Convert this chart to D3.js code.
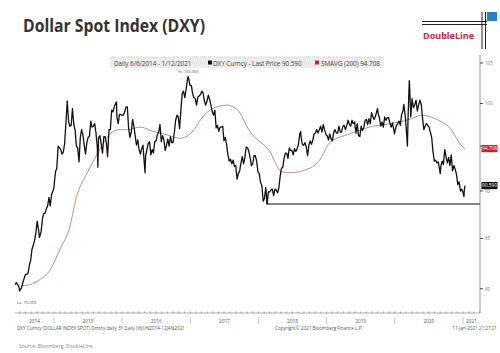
<!DOCTYPE html>
<html>
<head>
<meta charset="utf-8">
<script src="https://cdn.jsdelivr.net/npm/d3@7"></script>
<style>
  body { margin: 0; background: #fff; }
  svg { display: block; font-family: "Open Sans", "Liberation Sans", sans-serif; }
</style>
</head>
<body>
<svg id="chart" width="500" height="353"></svg>
<script>
const dxyPrice = [
  ["2014-06-06", 80.4], ["2014-06-13", 80.6], ["2014-06-20", 80.4], ["2014-06-27", 80.2], ["2014-07-01", 79.8],
  ["2014-07-11", 80.1], ["2014-07-18", 80.6], ["2014-07-25", 81.0], ["2014-08-01", 81.4], ["2014-08-08", 81.4],
  ["2014-08-15", 81.5], ["2014-08-22", 82.3], ["2014-08-29", 82.8], ["2014-09-05", 83.9], ["2014-09-12", 84.3],
  ["2014-09-19", 84.8], ["2014-09-26", 85.6], ["2014-10-03", 86.8], ["2014-10-10", 85.9], ["2014-10-15", 85.1],
  ["2014-10-24", 85.7], ["2014-10-31", 87.0], ["2014-11-07", 87.6], ["2014-11-14", 87.6], ["2014-11-21", 88.1],
  ["2014-11-28", 88.4], ["2014-12-05", 89.3], ["2014-12-12", 88.4], ["2014-12-19", 89.6], ["2014-12-31", 90.3],
  ["2015-01-09", 92.1], ["2015-01-16", 92.5], ["2015-01-23", 95.0], ["2015-01-30", 94.8], ["2015-02-06", 94.6],
  ["2015-02-13", 94.1], ["2015-02-20", 94.3], ["2015-02-27", 95.3], ["2015-03-06", 97.7], ["2015-03-13", 100.3],
  ["2015-03-20", 97.9], ["2015-03-27", 97.3], ["2015-04-03", 97.4], ["2015-04-10", 99.4], ["2015-04-17", 97.5],
  ["2015-04-24", 96.9], ["2015-05-01", 95.0], ["2015-05-08", 94.8], ["2015-05-15", 93.2], ["2015-05-22", 96.0],
  ["2015-05-29", 96.9], ["2015-06-05", 96.3], ["2015-06-12", 95.1], ["2015-06-19", 94.1], ["2015-06-26", 95.4],
  ["2015-07-03", 96.0], ["2015-07-10", 96.1], ["2015-07-17", 97.9], ["2015-07-24", 97.2], ["2015-07-31", 97.3],
  ["2015-08-07", 97.6], ["2015-08-14", 96.5], ["2015-08-21", 94.9], ["2015-08-24", 92.6], ["2015-08-28", 96.0],
  ["2015-09-04", 96.2], ["2015-09-11", 95.2], ["2015-09-18", 94.2], ["2015-09-25", 96.1], ["2015-10-02", 96.1],
  ["2015-10-09", 95.3], ["2015-10-15", 93.8], ["2015-10-23", 96.9], ["2015-10-30", 96.9], ["2015-11-06", 99.2],
  ["2015-11-13", 99.0], ["2015-11-20", 99.6], ["2015-11-27", 100.0], ["2015-12-02", 100.2], ["2015-12-04", 98.4],
  ["2015-12-11", 97.6], ["2015-12-18", 98.7], ["2015-12-31", 98.6],
  ["2016-01-08", 98.6], ["2016-01-15", 99.0], ["2016-01-22", 99.6], ["2016-01-29", 99.6], ["2016-02-05", 97.0],
  ["2016-02-12", 96.0], ["2016-02-19", 96.6], ["2016-02-26", 98.1], ["2016-03-04", 97.3], ["2016-03-11", 96.2],
  ["2016-03-18", 95.1], ["2016-03-25", 95.7], ["2016-04-01", 94.6], ["2016-04-08", 94.1], ["2016-04-15", 94.7],
  ["2016-04-22", 95.1], ["2016-04-29", 93.0], ["2016-05-03", 92.0], ["2016-05-06", 93.9], ["2016-05-13", 94.6],
  ["2016-05-20", 95.3], ["2016-05-27", 95.5], ["2016-06-03", 94.0], ["2016-06-10", 94.6], ["2016-06-17", 94.2],
  ["2016-06-24", 95.5], ["2016-07-01", 95.6], ["2016-07-08", 96.3], ["2016-07-15", 96.6], ["2016-07-22", 97.5],
  ["2016-07-29", 95.5], ["2016-08-05", 96.2], ["2016-08-12", 95.7], ["2016-08-19", 94.5], ["2016-08-26", 95.1],
  ["2016-09-02", 95.8], ["2016-09-09", 95.0], ["2016-09-16", 96.1], ["2016-09-23", 95.4], ["2016-09-30", 95.4],
  ["2016-10-07", 96.6], ["2016-10-14", 98.0], ["2016-10-21", 98.6], ["2016-10-28", 98.4], ["2016-11-04", 97.0],
  ["2016-11-11", 99.2], ["2016-11-18", 101.2], ["2016-11-25", 101.5], ["2016-12-02", 100.7], ["2016-12-09", 101.7],
  ["2016-12-16", 102.9], ["2016-12-20", 103.3], ["2016-12-23", 103.0], ["2016-12-30", 102.2],
  ["2017-01-06", 102.2], ["2017-01-13", 101.2], ["2017-01-20", 100.7], ["2017-01-27", 100.6], ["2017-02-03", 99.8],
  ["2017-02-10", 100.8], ["2017-02-17", 100.9], ["2017-02-24", 101.1], ["2017-03-03", 101.5], ["2017-03-10", 101.3],
  ["2017-03-17", 100.3], ["2017-03-24", 99.8], ["2017-03-31", 100.3], ["2017-04-07", 101.0], ["2017-04-14", 100.5],
  ["2017-04-21", 99.8], ["2017-04-28", 99.0], ["2017-05-05", 98.6], ["2017-05-12", 99.2], ["2017-05-19", 97.1],
  ["2017-05-26", 97.4], ["2017-06-02", 96.7], ["2017-06-09", 97.2], ["2017-06-16", 97.2], ["2017-06-23", 97.3],
  ["2017-06-30", 95.6], ["2017-07-07", 96.0], ["2017-07-14", 95.2], ["2017-07-21", 94.0], ["2017-07-28", 93.3],
  ["2017-08-04", 93.5], ["2017-08-11", 93.0], ["2017-08-18", 93.4], ["2017-08-25", 92.7], ["2017-09-01", 92.8],
  ["2017-09-08", 91.3], ["2017-09-15", 91.9], ["2017-09-22", 92.2], ["2017-09-29", 93.1], ["2017-10-06", 93.8],
  ["2017-10-13", 93.0], ["2017-10-20", 93.7], ["2017-10-27", 94.9], ["2017-11-03", 94.8], ["2017-11-10", 94.4],
  ["2017-11-17", 93.7], ["2017-11-24", 92.8], ["2017-12-01", 93.0], ["2017-12-08", 93.9], ["2017-12-15", 93.9],
  ["2017-12-22", 93.3], ["2017-12-29", 92.1],
  ["2018-01-05", 91.9], ["2018-01-12", 90.9], ["2018-01-19", 90.6], ["2018-01-26", 88.9], ["2018-02-02", 89.2],
  ["2018-02-09", 90.4], ["2018-02-16", 88.6], ["2018-02-23", 89.9], ["2018-03-02", 89.9], ["2018-03-09", 90.1],
  ["2018-03-16", 90.2], ["2018-03-23", 89.5], ["2018-03-30", 90.2], ["2018-04-06", 90.1], ["2018-04-13", 89.8],
  ["2018-04-20", 90.3], ["2018-04-27", 91.6], ["2018-05-04", 92.5], ["2018-05-11", 92.6], ["2018-05-18", 93.6],
  ["2018-05-25", 94.2], ["2018-06-01", 94.2], ["2018-06-08", 93.6], ["2018-06-15", 94.8], ["2018-06-22", 94.5],
  ["2018-06-29", 94.5], ["2018-07-06", 94.0], ["2018-07-13", 94.7], ["2018-07-20", 94.4], ["2018-07-27", 94.7],
  ["2018-08-03", 95.2], ["2018-08-10", 96.4], ["2018-08-15", 96.7], ["2018-08-17", 96.1], ["2018-08-24", 95.2],
  ["2018-08-31", 95.1], ["2018-09-07", 95.4], ["2018-09-14", 94.9], ["2018-09-21", 93.9], ["2018-09-28", 95.1],
  ["2018-10-05", 95.6], ["2018-10-12", 95.2], ["2018-10-19", 95.7], ["2018-10-26", 96.4], ["2018-11-02", 96.5],
  ["2018-11-09", 96.9], ["2018-11-16", 96.5], ["2018-11-23", 96.9], ["2018-11-30", 97.3], ["2018-12-07", 96.6],
  ["2018-12-14", 97.5], ["2018-12-21", 96.9], ["2018-12-31", 96.2],
  ["2019-01-04", 96.2], ["2019-01-11", 95.7], ["2019-01-18", 96.4], ["2019-01-25", 95.8], ["2019-02-01", 95.6],
  ["2019-02-08", 96.6], ["2019-02-15", 96.9], ["2019-02-22", 96.5], ["2019-03-01", 96.5], ["2019-03-08", 97.3],
  ["2019-03-15", 96.6], ["2019-03-22", 96.6], ["2019-03-29", 97.3], ["2019-04-05", 97.4], ["2019-04-12", 96.9],
  ["2019-04-19", 97.4], ["2019-04-26", 98.0], ["2019-05-03", 97.5], ["2019-05-10", 97.3], ["2019-05-17", 98.0],
  ["2019-05-24", 97.6], ["2019-05-31", 97.8], ["2019-06-07", 96.5], ["2019-06-14", 97.6], ["2019-06-21", 96.2],
  ["2019-06-28", 96.1], ["2019-07-05", 97.3], ["2019-07-12", 96.8], ["2019-07-19", 97.1], ["2019-07-26", 98.0],
  ["2019-08-02", 98.1], ["2019-08-09", 97.5], ["2019-08-16", 98.2], ["2019-08-23", 97.6], ["2019-08-30", 98.9],
  ["2019-09-06", 98.4], ["2019-09-13", 98.1], ["2019-09-20", 98.5], ["2019-09-27", 99.1], ["2019-10-01", 99.4],
  ["2019-10-04", 98.8], ["2019-10-11", 98.3], ["2019-10-18", 97.3], ["2019-10-25", 97.8], ["2019-11-01", 97.2],
  ["2019-11-08", 98.4], ["2019-11-15", 98.0], ["2019-11-22", 98.3], ["2019-11-29", 98.3], ["2019-12-06", 97.7],
  ["2019-12-13", 97.2], ["2019-12-20", 97.7], ["2019-12-31", 96.4],
  ["2020-01-03", 96.8], ["2020-01-10", 97.4], ["2020-01-17", 97.6], ["2020-01-24", 97.9], ["2020-01-31", 97.4],
  ["2020-02-07", 98.7], ["2020-02-14", 99.1], ["2020-02-19", 99.9], ["2020-02-28", 98.1], ["2020-03-06", 96.0],
  ["2020-03-09", 95.0], ["2020-03-13", 98.7], ["2020-03-19", 102.8], ["2020-03-20", 102.5], ["2020-03-27", 98.4],
  ["2020-04-03", 100.6], ["2020-04-10", 99.5], ["2020-04-17", 99.8], ["2020-04-24", 100.4], ["2020-05-01", 99.1],
  ["2020-05-08", 99.8], ["2020-05-15", 100.4], ["2020-05-22", 99.9], ["2020-05-29", 98.3], ["2020-06-05", 96.9],
  ["2020-06-12", 97.3], ["2020-06-19", 97.6], ["2020-06-26", 97.4], ["2020-07-03", 97.2], ["2020-07-10", 96.6],
  ["2020-07-17", 96.0], ["2020-07-24", 94.4], ["2020-07-31", 93.3], ["2020-08-07", 93.4], ["2020-08-14", 93.1],
  ["2020-08-21", 93.2], ["2020-08-28", 92.4], ["2020-09-01", 91.9], ["2020-09-04", 92.7], ["2020-09-11", 93.3],
  ["2020-09-18", 92.9], ["2020-09-25", 94.6], ["2020-10-02", 93.8], ["2020-10-09", 93.1], ["2020-10-16", 93.7],
  ["2020-10-23", 92.8], ["2020-10-30", 94.0], ["2020-11-06", 92.2], ["2020-11-13", 92.8], ["2020-11-20", 92.4],
  ["2020-11-27", 91.8], ["2020-12-04", 90.7], ["2020-12-11", 91.0], ["2020-12-18", 90.0], ["2020-12-25", 90.2],
  ["2020-12-31", 89.9], ["2021-01-06", 89.4], ["2021-01-08", 90.1], ["2021-01-11", 90.5], ["2021-01-12", 90.59]
];

// 200-day simple moving average
const sma200 = [
  ["2014-07-13", 80.3], ["2014-08-25", 80.4], ["2014-10-18", 80.9], ["2014-12-10", 81.8], ["2015-02-02", 83.9],
  ["2015-03-27", 86.2], ["2015-04-28", 89.1], ["2015-07-01", 92.1], ["2015-09-03", 94.6], ["2015-10-27", 96.4],
  ["2015-12-20", 96.9], ["2016-02-01", 96.9], ["2016-04-06", 97.2], ["2016-06-14", 96.7], ["2016-08-28", 96.3],
  ["2016-11-05", 95.9], ["2017-01-09", 96.6], ["2017-03-08", 98.4], ["2017-05-01", 99.4], ["2017-07-15", 99.8],
  ["2017-09-12", 99.2], ["2017-11-15", 96.7], ["2018-03-02", 94.4], ["2018-05-05", 92.1], ["2018-06-17", 92.0],
  ["2018-10-03", 92.5], ["2018-11-24", 93.4], ["2019-01-18", 95.4], ["2019-05-05", 96.4], ["2019-08-19", 97.2],
  ["2019-12-04", 97.6], ["2020-03-20", 98.1], ["2020-05-25", 98.6], ["2020-08-13", 98.1], ["2020-10-22", 97.1],
  ["2020-12-31", 94.9], ["2021-01-12", 94.708]
];

const yTicks = [80, 85, 90, 95, 100, 105];
const yearLabels = ["2014", "2015", "2016", "2017", "2018", "2019", "2020", "2021"];
const lastPrice = 90.590;
const lastSma = 94.708;
const supportLevel = 88.6;
const supportFrom = "2018-02-16";
const hiValue = 103.300;
const loValue = 79.093;

const parse = d3.timeParse("%Y-%m-%d");
const price = dxyPrice.map(d => ({date: parse(d[0]), value: d[1]}));
const sma = sma200.map(d => ({date: parse(d[0]), value: d[1]}));

const svg = d3.select("#chart");
const plotLeft = 15, plotRight = 480, plotTop = 57, plotBottom = 313;

const x = d3.scaleTime()
  .domain([parse("2014-06-06"), parse("2021-04-02")])
  .range([plotLeft, plotRight]);
const y = d3.scaleLog()
  .domain([77.7, 105.76])
  .range([plotBottom, plotTop]);

// title
svg.append("text")
  .attr("x", 23).attr("y", 32)
  .attr("font-size", 18).attr("font-weight", 700)
  .attr("fill", "#333")
  .attr("textLength", 182).attr("lengthAdjust", "spacingAndGlyphs")
  .text("Dollar Spot Index (DXY)");

// DoubleLine logo
const logo = svg.append("g");
[21.5, 24.5].forEach(yy => logo.append("line")
  .attr("x1", 422).attr("x2", 487).attr("y1", yy).attr("y2", yy)
  .attr("stroke", "#222").attr("stroke-width", 1));
[482, 485.5].forEach(xx => logo.append("line")
  .attr("x1", xx).attr("x2", xx).attr("y1", 12).attr("y2", 49)
  .attr("stroke", "#222").attr("stroke-width", 1));
logo.append("rect").attr("x", 487).attr("y", 12).attr("width", 10).attr("height", 9).attr("fill", "#1f7fd0");
logo.append("text")
  .attr("x", 423).attr("y", 39)
  .attr("font-size", 9).attr("font-weight", 700).attr("fill", "#d0233b")
  .text("DoubleLine");

// legend bar
svg.append("rect")
  .attr("x", 110).attr("y", 57).attr("width", 274).attr("height", 11)
  .attr("fill", "#ececec");
svg.append("line")
  .attr("x1", 110).attr("x2", 384).attr("y1", 57).attr("y2", 57)
  .attr("stroke", "#bbb").attr("stroke-dasharray", "1,1").attr("stroke-width", 0.6);
const legend = svg.append("g").attr("font-size", 6.3).attr("fill", "#444");
legend.append("text").attr("x", 114).attr("y", 65.5).text("Daily 6/6/2014 - 1/12/2021");
legend.append("rect").attr("x", 208).attr("y", 60.5).attr("width", 4).attr("height", 4).attr("fill", "#111");
legend.append("text").attr("x", 213).attr("y", 65.5).text("DXY Curncy - Last Price " + d3.format(".3f")(lastPrice));
legend.append("rect").attr("x", 315).attr("y", 60.5).attr("width", 4).attr("height", 4).attr("fill", "#c8202f");
legend.append("text").attr("x", 321).attr("y", 65.5).text("SMAVG (200) " + d3.format(".3f")(lastSma));

// right axis (the 95 label sits under the SMA tag, so only its tick shows)
svg.append("line")
  .attr("x1", plotRight).attr("x2", plotRight).attr("y1", plotTop - 2).attr("y2", plotBottom)
  .attr("stroke", "#999").attr("stroke-width", 1);
const yAxis = svg.append("g");
yTicks.forEach(t => {
  yAxis.append("line")
    .attr("x1", plotRight).attr("x2", plotRight + 3).attr("y1", y(t)).attr("y2", y(t))
    .attr("stroke", "#222").attr("stroke-width", 0.8);
  if (Math.abs(y(t) - y(lastSma)) < 6) return;
  yAxis.append("text")
    .attr("x", plotRight + 5).attr("y", y(t) + 2)
    .attr("font-size", 4.5).attr("fill", "#777")
    .text(t);
});

// bottom axis
svg.append("line")
  .attr("x1", plotLeft).attr("x2", plotRight).attr("y1", plotBottom).attr("y2", plotBottom)
  .attr("stroke", "#999").attr("stroke-width", 0.8);
x.ticks(d3.timeMonth.every(1)).forEach(m => {
  svg.append("line")
    .attr("x1", x(m)).attr("x2", x(m)).attr("y1", plotBottom - 1.5).attr("y2", plotBottom)
    .attr("stroke", "#666").attr("stroke-width", 0.6);
});
const [d0, d1] = x.domain();
yearLabels.forEach(label => {
  const ys = d3.max([d0, new Date(+label, 0, 1)]);
  const ye = d3.min([d1, new Date(+label + 1, 0, 1)]);
  if (+label > 2014) {
    svg.append("line")
      .attr("x1", x(new Date(+label, 0, 1))).attr("x2", x(new Date(+label, 0, 1)))
      .attr("y1", 317).attr("y2", 324)
      .attr("stroke", "#aaa").attr("stroke-width", 0.6);
  }
  svg.append("text")
    .attr("x", (x(ys) + x(ye)) / 2).attr("y", 323)
    .attr("text-anchor", "middle")
    .attr("font-size", 4.8).attr("fill", "#555")
    .text(label);
});

// footer texts
const foot = svg.append("g").attr("font-size", 4.6).attr("fill", "#555");
foot.append("text").attr("x", 17).attr("y", 329.5)
  .text("DXY Curncy (DOLLAR INDEX SPOT) Dmthy daily 3Y  Daily 06JUN2014-12JAN2021");
foot.append("text").attr("x", 275).attr("y", 329.5)
  .text("Copyright\u00A9 2021 Bloomberg Finance L.P.");
foot.append("text").attr("x", 497).attr("y", 329.5).attr("text-anchor", "end")
  .text("11-Jan-2021 21:27:21");
svg.append("text")
  .attr("x", 19).attr("y", 348)
  .attr("font-size", 5).attr("fill", "#888")
  .text("Source: Bloomberg, DoubleLine");

// support line from 2018 low to the axis
const sx = x(parse(supportFrom));
svg.append("path")
  .attr("d", `M${sx},${y(supportLevel) - 4}V${y(supportLevel)}H${plotRight}`)
  .attr("fill", "none").attr("stroke", "#111").attr("stroke-width", 1.2);

// lines
svg.append("path")
  .datum(sma)
  .attr("d", d3.line().x(d => x(d.date)).y(d => y(d.value)).curve(d3.curveMonotoneX))
  .attr("fill", "none").attr("stroke", "#c47a82").attr("stroke-width", 0.9);
svg.append("path")
  .datum(price)
  .attr("d", d3.line().x(d => x(d.date)).y(d => y(d.value)))
  .attr("fill", "none").attr("stroke", "#111").attr("stroke-width", 1.3)
  .attr("stroke-linejoin", "round");

// hi / lo labels
const hiPoint = price.reduce((a, b) => b.value > a.value ? b : a);
svg.append("text")
  .attr("x", x(hiPoint.date)).attr("y", y(hiPoint.value) - 4)
  .attr("text-anchor", "middle")
  .attr("font-size", 4).attr("fill", "#555")
  .text("Hi: " + d3.format(".3f")(hiValue));
svg.append("text")
  .attr("x", 17).attr("y", 304)
  .attr("font-size", 4).attr("fill", "#555")
  .text("Lo: " + d3.format(".3f")(loValue));

// last value tags
[[lastSma, "#c8202f"], [lastPrice, "#111"]].forEach(([v, c]) => {
  svg.append("rect")
    .attr("x", plotRight + 1.5).attr("y", y(v) - 3.6).attr("width", 16).attr("height", 7.2)
    .attr("fill", c);
  svg.append("text")
    .attr("x", plotRight + 9.5).attr("y", y(v) + 1.7)
    .attr("text-anchor", "middle")
    .attr("font-size", 4.8).attr("fill", "#fff")
    .text(d3.format(".3f")(v));
});
</script>
</body>
</html>
